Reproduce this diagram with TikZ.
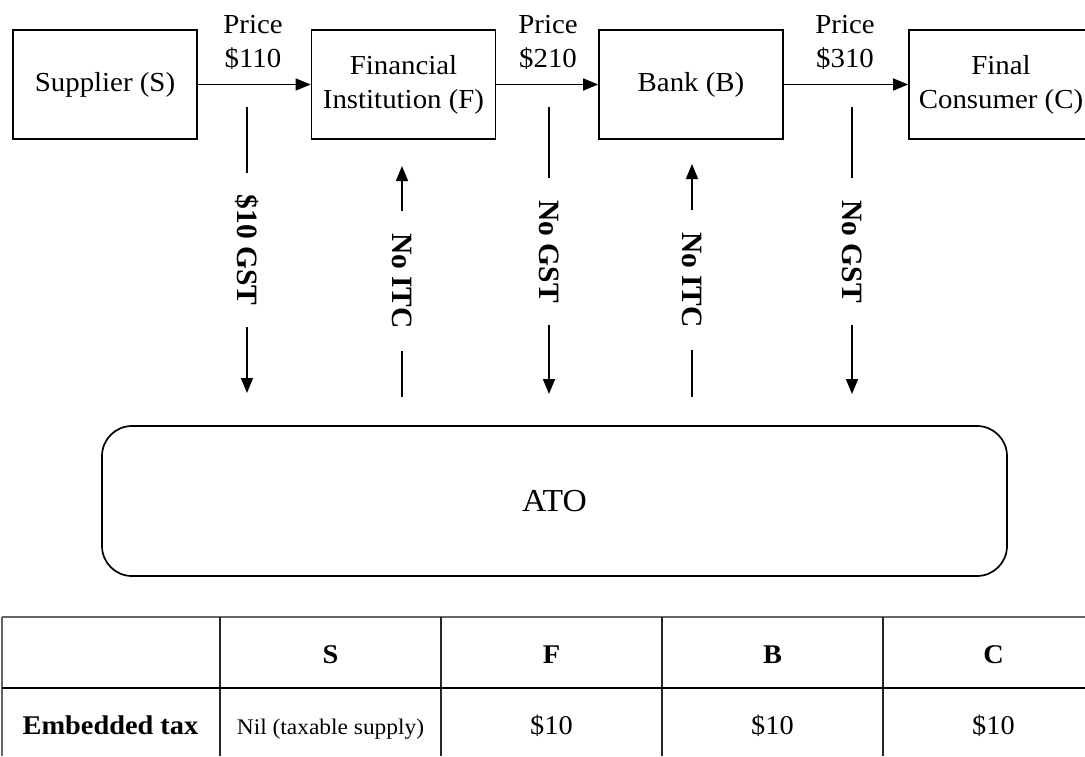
\documentclass[tikz,border=0pt]{standalone}
\usepackage{fontspec}
\setmainfont{Liberation Serif}[FakeStretch=1.05]
\newfontfamily\vlabfont{Liberation Serif}
\usetikzlibrary{arrows.meta}
\tikzset{
  box/.style={draw, line width=1.7pt, minimum width=184pt, minimum height=109pt,
    inner sep=0pt, align=center, font=\fontsize{27.5}{34}\selectfont},
  flow/.style={line width=1.6pt, -{Triangle[length=15pt,width=12pt]}},
  taxline/.style={line width=1.6pt},
  taxarrow/.style={line width=1.6pt, -{Triangle[length=15pt,width=12pt]}},
  price/.style={align=center, inner sep=0pt, anchor=north,
    font=\fontsize{27.5}{34}\selectfont},
  vlab/.style={rotate=-90, font=\vlabfont\bfseries\fontsize{29.5}{30}\selectfont,
    inner xsep=22pt, inner ysep=0pt, outer sep=0pt},
  atobox/.style={draw, line width=1.7pt, rounded corners=30pt, minimum width=905pt,
    minimum height=150pt, inner sep=0pt, font=\fontsize{32}{36}\selectfont},
  gridthin/.style={line width=1.5pt, black!60},
  gridin/.style={line width=1.8pt, black!85},
  gridmid/.style={line width=2.3pt, black},
  thead/.style={anchor=base, inner sep=0pt, font=\bfseries\fontsize{27}{30}\selectfont},
  tcell/.style={anchor=base, inner sep=0pt, font=\fontsize{27}{30}\selectfont},
  tsmall/.style={anchor=base, inner sep=0pt, font=\fontsize{22.3}{26}\selectfont},
}
\begin{document}
\begin{tikzpicture}[x=1pt, y=-1pt]
\useasboundingbox (0,0) rectangle (1085,756);
\clip (0,0) rectangle (1085,756);

% entities
\node[box] (S) at (105,84.5) {Supplier (S)};
\node[box] (F) at (403.5,84.5) {Financial\\Institution (F)};
\node[box] (B) at (691,84.5) {Bank (B)};
\node[box] (C) at (1001,84.5) {Final\\Consumer (C)};

\draw[flow] (S) -- (F);
\draw[flow] (F) -- (B);
\draw[flow] (B) -- (C);

\node[price] (p1) at (253,15) {Price\\\$110};
\node[price] (p2) at (548,15) {Price\\\$210};
\node[price] (p3) at (845,15) {Price\\\$310};

% tax flows
\coordinate (g1t) at (247,107);
\coordinate (g1b) at (247,393);
\node[vlab] (g1) at (247,250) {\$10 GST};
\draw[taxline] (g1t) -- (g1.west);
\draw[taxarrow] (g1.east) -- (g1b);

\coordinate (i1t) at (402,166);
\coordinate (i1b) at (402,397);
\node[vlab] (i1) at (402,281) {No ITC};
\draw[taxarrow] (i1.west) -- (i1t);
\draw[taxline] (i1.east) -- (i1b);

\coordinate (g2t) at (549,107);
\coordinate (g2b) at (549,394);
\node[vlab] (g2) at (549,251.5) {No GST};
\draw[taxline] (g2t) -- (g2.west);
\draw[taxarrow] (g2.east) -- (g2b);

\coordinate (i2t) at (692,164);
\coordinate (i2b) at (692,397);
\node[vlab] (i2) at (692,280) {No ITC};
\draw[taxarrow] (i2.west) -- (i2t);
\draw[taxline] (i2.east) -- (i2b);

\coordinate (g3t) at (852,107);
\coordinate (g3b) at (852,394);
\node[vlab] (g3) at (852,251.5) {No GST};
\draw[taxline] (g3t) -- (g3.west);
\draw[taxarrow] (g3.east) -- (g3b);

% ATO
\node[atobox] (ato) at (554.5,501) {ATO};

% table
\draw[gridthin] (2,617) -- (1085,617);
\draw[gridthin] (2,617) -- (2,756);
\draw[gridin] (220,617) -- (220,756);
\draw[gridin] (441,617) -- (441,756);
\draw[gridin] (662,617) -- (662,756);
\draw[gridin] (883,617) -- (883,756);
\draw[gridmid] (2,688) -- (1085,688);

\node[thead] (hS) at (330.5,663) {S};
\node[thead] (hF) at (551.5,663) {F};
\node[thead] (hB) at (772.5,663) {B};
\node[thead] (hC) at (993.5,663) {C};

\node[thead] (rlab) at (110.5,734) {Embedded tax};
\node[tsmall] (cS) at (330.5,734) {Nil (taxable supply)};
\node[tcell] (cF) at (551.5,734) {\$10};
\node[tcell] (cB) at (772.5,734) {\$10};
\node[tcell] (cC) at (993.5,734) {\$10};
\end{tikzpicture}
\end{document}
